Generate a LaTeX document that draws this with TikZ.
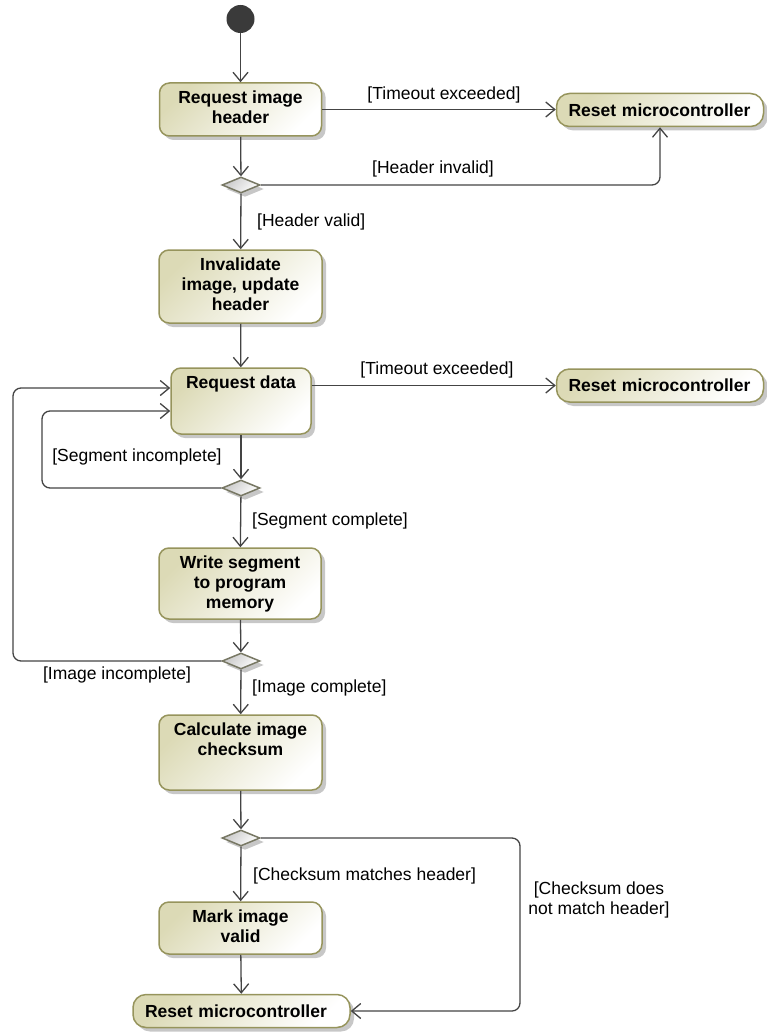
\documentclass[tikz,border=0pt]{standalone}
\usepackage{fontspec}
\setmainfont{Liberation Sans}
\usetikzlibrary{arrows.meta,shapes.geometric,shadows}

\definecolor{actfill}{RGB}{220,218,182}
\definecolor{actline}{RGB}{150,148,92}
\definecolor{flowline}{RGB}{68,68,68}
\definecolor{decfill}{RGB}{200,200,200}
\definecolor{decline}{RGB}{120,120,100}
\definecolor{startfill}{RGB}{58,58,58}

\tikzset{
  shadowed/.style={drop shadow={shadow xshift=4pt, shadow yshift=-4pt, fill=black, opacity=0.22}},
  act/.style={draw=actline, line width=1.5pt, rounded corners=10pt,
    shading=axis, top color=actfill, bottom color=white, shading angle=45,
    shadowed, inner sep=0pt},
  acttext/.style={font=\bfseries\fontsize{17.5}{20}\selectfont, align=center,
    inner sep=0pt, anchor=north, yshift=-8.5pt, text=black},
  reset/.style={act, rounded corners=13pt, minimum height=33pt, inner xsep=12pt,
    align=left, font=\bfseries\fontsize{17.5}{20}\selectfont, text=black},
  dec/.style={shape=diamond, draw=decline, line width=1.5pt,
    shading=axis, top color=decfill, bottom color=white, shading angle=45,
    shadowed, minimum width=38pt, minimum height=16pt, inner sep=0pt},
  startnode/.style={circle, fill=startfill, minimum size=28pt, inner sep=0pt},
  flow/.style={draw=flowline, line width=1.3pt, rounded corners=8pt,
    -{Straight Barb[length=9pt,width=15pt]}},
  guard/.style={font=\fontsize{17.5}{20}\selectfont, inner sep=0pt, text=black, align=center}
}

\begin{document}
\begin{tikzpicture}[x=1pt,y=-1pt]
\useasboundingbox (0,0) rectangle (767,1032);

% start
\node[startnode] (s) at (240.5,19) {};

% activities
\node[act, minimum width=162pt, minimum height=53pt,
  label={[acttext]north:Request image\\header}] (b1) at (240.5,109.5) {};
\node[act, minimum width=163pt, minimum height=73pt,
  label={[acttext]north:Invalidate\\image, update\\header}] (b2) at (240.5,286.5) {};
\node[act, minimum width=140pt, minimum height=66pt,
  label={[acttext]north:Request data}] (b3) at (241,401) {};
\node[act, minimum width=162pt, minimum height=71pt,
  label={[acttext]north:Write segment\\to program\\memory}] (b4) at (240,583.5) {};
\node[act, minimum width=163pt, minimum height=75pt,
  label={[acttext]north:Calculate image\\checksum}] (b5) at (240.5,752.5) {};
\node[act, minimum width=163pt, minimum height=52pt,
  label={[acttext]north:Mark image\\valid}] (b6) at (240.5,928) {};

% reset nodes
\node[reset, text width=183pt] (r1) at (660,110) {Reset microcontroller};
\node[reset, text width=183pt] (r2) at (660,385.5) {Reset microcontroller};
\node[reset, text width=193pt] (r3) at (241.5,1011) {Reset microcontroller};

% decisions
\node[dec] (d1) at (241,185) {};
\node[dec] (d2) at (241,488) {};
\node[dec] (d3) at (241,661) {};
\node[dec] (d4) at (241,838) {};

% bend points of the loop-back and exit paths
\coordinate (o1) at (13,388);
\coordinate (o2) at (42,411);
\coordinate (o3) at (520,1011);

% flows
\draw[flow] (s) -- (b1);
\draw[flow] (b1.east) -- (b1.east -| r1.west);
\draw[flow] (b1) -- (d1);
\draw[flow] (d1.east) -| (r1.south);
\draw[flow] (d1) -- (b2);
\draw[flow] (b2) -- (b3);
\draw[flow] (b3.east |- r2.west) -- (r2.west);
\draw[flow] (b3) -- (d2);
\draw[flow] (d2.west) -| (o2) -- (b3.west |- o2);
\draw[flow] (d2) -- (b4);
\draw[flow] (b4) -- (d3);
\draw[flow] (d3.west) -| (o1) -- (b3.west |- o1);
\draw[flow] (d3) -- (b5);
\draw[flow] (b5) -- (d4);
\draw[flow] (d4) -- (b6);
\draw[flow] (d4.east) -| (o3) -- (r3.east);
\draw[flow] (b6) -- (r3);

% guards
\node[guard] (g1) at (444,95) {[Timeout exceeded]};
\node[guard] (g2) at (433,169) {[Header invalid]};
\node[guard, anchor=west] (g3) at (257,222) {[Header valid]};
\node[guard] (g4) at (437,370) {[Timeout exceeded]};
\node[guard] (g5) at (137,457) {[Segment incomplete]};
\node[guard, anchor=west] (g6) at (252,521) {[Segment complete]};
\node[guard] (g7) at (117,675) {[Image incomplete]};
\node[guard, anchor=west] (g8) at (252,688) {[Image complete]};
\node[guard, anchor=west] (g9) at (253,876) {[Checksum matches header]};
\node[guard] (g10) at (599,900) {[Checksum does\\not match header]};
\end{tikzpicture}
\end{document}
